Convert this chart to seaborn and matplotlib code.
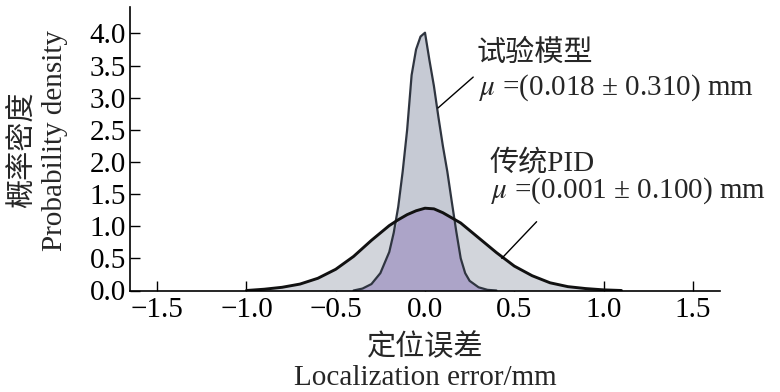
import numpy as np
import pandas as pd
import seaborn as sns
import matplotlib.pyplot as plt

# density curves
narrow_x = [-0.40, -0.35, -0.30, -0.25, -0.20, -0.175, -0.15, -0.125, -0.10, -0.075, -0.05, -0.025,
            0.0, 0.025, 0.05, 0.075, 0.10, 0.125, 0.15, 0.175, 0.20, 0.225, 0.25, 0.30, 0.35, 0.40]
narrow_y = [0.00, 0.03, 0.10, 0.27, 0.60, 0.90, 1.30, 1.85, 2.50, 3.35, 3.75, 3.95,
            4.01, 3.58, 3.18, 2.70, 2.25, 1.85, 1.38, 0.92, 0.50, 0.27, 0.15, 0.05, 0.01, 0.00]
wide_x = [-1.0, -0.9, -0.8, -0.7, -0.6, -0.5, -0.4, -0.3, -0.2, -0.15, -0.1, -0.05,
          0.0, 0.05, 0.1, 0.15, 0.2, 0.3, 0.4, 0.5, 0.6, 0.7, 0.8, 0.9, 1.0, 1.1]
wide_y = [0.00, 0.02, 0.05, 0.10, 0.19, 0.33, 0.53, 0.78, 1.01, 1.10, 1.18, 1.24,
          1.28, 1.27, 1.21, 1.13, 1.05, 0.82, 0.59, 0.38, 0.23, 0.12, 0.06, 0.03, 0.01, 0.00]

x_ticks = [-1.5, -1.0, -0.5, 0.0, 0.5, 1.0, 1.5]
y_ticks = [0.0, 0.5, 1.0, 1.5, 2.0, 2.5, 3.0, 3.5, 4.0]

label_model = "试验模型"
label_model_mu = r"$\mu$ =(0.018 ± 0.310) mm"
label_pid = "传统PID"
label_pid_mu = r"$\mu$ =(0.001 ± 0.100) mm"

sns.set_theme(style="ticks")
fonts = ["Liberation Serif", "Noto Sans CJK SC"]
plt.rcParams["font.family"] = fonts
plt.rcParams["mathtext.fontset"] = "stix"

fig = plt.figure(figsize=(7.8, 3.92), dpi=100)
ax = fig.add_axes([130 / 780, 1 - 290.5 / 392, 590 / 780, 283.5 / 392])

narrow = pd.DataFrame({"x": narrow_x, "y": narrow_y})
wide = pd.DataFrame({"x": wide_x, "y": wide_y})

# fills: wide, narrow, then the overlap
ax.fill_between(wide.x, 0, wide.y, color="#d2d5db", lw=0)
ax.fill_between(narrow.x, 0, narrow.y, color="#c6cad4", lw=0)
grid = np.union1d(narrow.x, wide.x)
grid = grid[(grid >= narrow.x.min()) & (grid <= narrow.x.max())]
overlap = np.minimum(np.interp(grid, narrow.x, narrow.y), np.interp(grid, wide.x, wide.y))
ax.fill_between(grid, 0, overlap, color="#aca4c8", lw=0)

sns.lineplot(data=narrow, x="x", y="y", ax=ax, color="#2f3540", lw=1.6)
sns.lineplot(data=wide, x="x", y="y", ax=ax, color="#111111", lw=2.1)

ax.set_xlim(-1.652, 1.652)
ax.set_ylim(0, 4.41)
ax.set_xticks(x_ticks)
ax.set_yticks(y_ticks)
ax.set_xticklabels([f"{v:.1f}".replace("-", "\u2212") for v in x_ticks])
ax.set_yticklabels([f"{v:.1f}" for v in y_ticks])
ax.tick_params(direction="in", length=7, width=1, labelsize=21, colors="black", pad=3)
ax.tick_params(axis="x", pad=5)
for s in ["top", "right"]:
    ax.spines[s].set_visible(False)
for s in ["left", "bottom"]:
    ax.spines[s].set_linewidth(1.2)
    ax.spines[s].set_color("black")
ax.set_xlabel("")
ax.set_ylabel("")

# annotations
ax.text(0.29, 3.69, label_model, fontsize=21, va="center", ha="left")
ax.text(0.305, 3.15, label_model_mu, fontsize=21, va="center", ha="left")
ax.plot([0.073, 0.27], [2.84, 3.32], color="black", lw=1)
ax.text(0.36, 1.98, label_pid, fontsize=21, va="center", ha="left")
ax.text(0.37, 1.56, label_pid_mu, fontsize=21, va="center", ha="left")
ax.plot([0.43, 0.625], [0.50, 1.07], color="black", lw=1)

# axis titles
fig.text(425 / 780, 1 - 347 / 392, "定位误差", fontsize=21, ha="center", va="center")
fig.text(425 / 780, 1 - 378 / 392, "Localization error/mm", fontsize=21, ha="center", va="center")
fig.text(22 / 780, 1 - 150 / 392, "概率密度", fontsize=21, ha="center", va="center", rotation=90)
fig.text(55 / 780, 1 - 140 / 392, "Probability density", fontsize=21, ha="center", va="center", rotation=90)

fig.savefig("out.png", dpi=100)
